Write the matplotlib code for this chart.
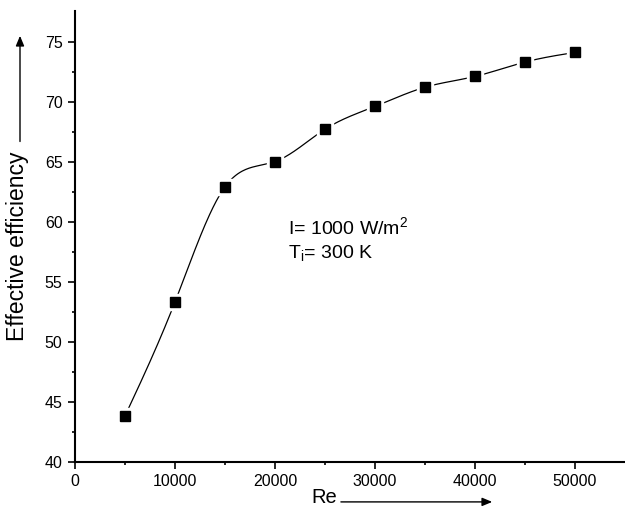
import numpy as np
import matplotlib
matplotlib.use("Agg")
import matplotlib.pyplot as plt

re_vals = [5000, 10000, 15000, 20000, 25000, 30000, 35000, 40000, 45000, 50000]
eff_vals = [43.8, 53.3, 62.9, 65.0, 67.7, 69.6, 71.2, 72.1, 73.3, 74.1]

x_ticks = [0, 10000, 20000, 30000, 40000, 50000]
y_ticks = [40, 45, 50, 55, 60, 65, 70, 75]


def natural_spline(x, y, n=400):
    # plain natural cubic spline, no scipy needed
    x = np.asarray(x, float)
    y = np.asarray(y, float)
    k = len(x)
    h = np.diff(x)
    A = np.zeros((k, k))
    b = np.zeros(k)
    A[0, 0] = 1
    A[-1, -1] = 1
    for i in range(1, k - 1):
        A[i, i - 1] = h[i - 1]
        A[i, i] = 2 * (h[i - 1] + h[i])
        A[i, i + 1] = h[i]
        b[i] = 6 * ((y[i + 1] - y[i]) / h[i] - (y[i] - y[i - 1]) / h[i - 1])
    m = np.linalg.solve(A, b)
    xs = np.linspace(x[0], x[-1], n)
    idx = np.clip(np.searchsorted(x, xs) - 1, 0, k - 2)
    x0, x1 = x[idx], x[idx + 1]
    hh = x1 - x0
    t0 = x1 - xs
    t1 = xs - x0
    ys = (m[idx] * t0 ** 3 + m[idx + 1] * t1 ** 3) / (6 * hh) \
        + (y[idx] / hh - m[idx] * hh / 6) * t0 \
        + (y[idx + 1] / hh - m[idx + 1] * hh / 6) * t1
    return xs, ys


plt.rcParams['font.family'] = ['Liberation Sans', 'DejaVu Sans']
plt.rcParams['mathtext.default'] = 'regular'

fig = plt.figure(figsize=(6.25, 5.08), dpi=100)
ax = fig.add_axes([0.12, 0.0915, 0.88, 0.8865])

xs, ys = natural_spline(re_vals, eff_vals)
ax.plot(xs, ys, color='black', lw=0.9, zorder=2)
# white squares under the symbols give the small gap around them
ax.plot(re_vals, eff_vals, ls='none', marker='s', ms=12, color='white', zorder=3)
ax.plot(re_vals, eff_vals, ls='none', marker='s', ms=6.8, color='black', zorder=4)

ax.set_xlim(0, 55000)
ax.set_ylim(40, 77.54)
ax.set_xticks(x_ticks)
ax.set_yticks(y_ticks)
ax.set_xticks(np.arange(5000, 55000, 10000), minor=True)
ax.set_yticks(np.arange(42.5, 77.5, 5), minor=True)

for s in ['top', 'right']:
    ax.spines[s].set_visible(False)
for s in ['left', 'bottom']:
    ax.spines[s].set_linewidth(1.5)

ax.tick_params(which='major', direction='out', length=5, width=1.2, labelsize=11.5, pad=4)
ax.tick_params(which='minor', direction='out', length=2.5, width=1.2)

ax.text(21300, 59.5, 'I= 1000 W/m$^{2}$', fontsize=14, va='center')
ax.text(21300, 57.4, 'T$_{i}$= 300 K', fontsize=14, va='center')

fig.text(0.028, 0.515, 'Effective efficiency', rotation=90, fontsize=16.5,
         ha='center', va='center')
fig.text(0.519, 0.02, 'Re', fontsize=14.5, ha='center', va='center')

fig.patches.append(matplotlib.patches.FancyArrowPatch(
    (0.032, 0.716), (0.032, 0.935), transform=fig.transFigure,
    arrowstyle='-|>,head_length=6,head_width=2.5', color='black', lw=1))
fig.patches.append(matplotlib.patches.FancyArrowPatch(
    (0.541, 0.012), (0.792, 0.012), transform=fig.transFigure,
    arrowstyle='-|>,head_length=6,head_width=2.5', color='black', lw=1))

fig.savefig('out.png', dpi=100)
